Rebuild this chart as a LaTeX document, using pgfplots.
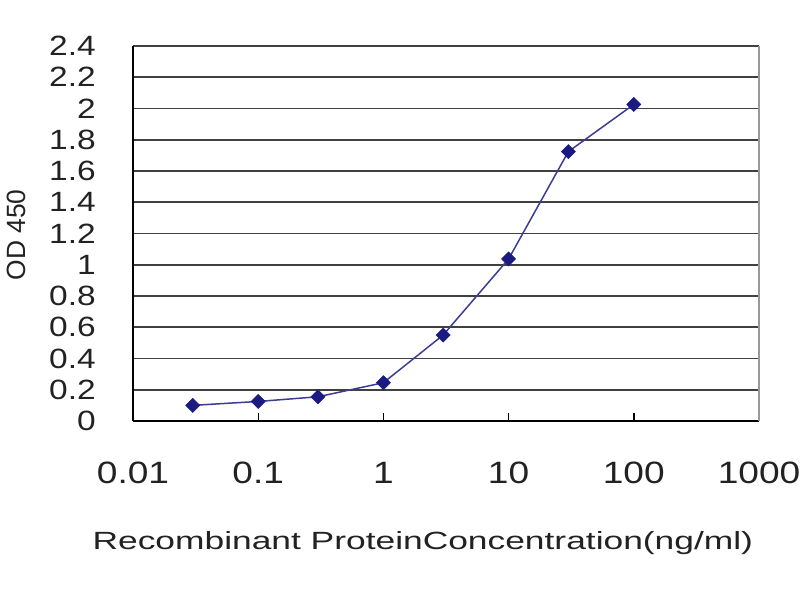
\documentclass[border=0pt]{standalone}
\usepackage{pgfplots}
\pgfplotsset{compat=1.18}
\usepackage{fontspec}
\setmainfont{Liberation Sans}
\usepackage{graphicx}
\definecolor{navy}{HTML}{1A1A80}
\definecolor{gridc}{HTML}{404040}
\definecolor{txt}{HTML}{222222}
\begin{document}
\begin{tikzpicture}[x=1bp,y=1bp]
\path[use as bounding box] (0,0) rectangle (800,600);
\begin{axis}[
  at={(133bp,179bp)}, anchor=south west,
  scale only axis, width=626bp, height=375bp,
  xmode=log, xmin=0.01, xmax=1000,
  ymin=0, ymax=2.4,
  axis lines=left, axis line style={-, black, line width=1.6bp},
  xtick={0.01,0.1,1,10,100,1000},
  xticklabels={0.01,0.1,1,10,100,1000},
  ytick={0,0.2,0.4,0.6,0.8,1,1.2,1.4,1.6,1.8,2,2.2,2.4},
  yticklabels={0,0.2,0.4,0.6,0.8,1,1.2,1.4,1.6,1.8,2,2.2,2.4},
  minor x tick num=0, minor xtick={}, xminorticks=false,
  xtick align=inside, major tick length=8bp,
  xtick style={black, line width=1.4bp},
  ytick style={draw=none},
  ymajorgrids, major grid style={gridc, line width=1.6bp},
  extra x ticks={1000}, extra x tick labels={},
  extra x tick style={xmajorgrids, major grid style={gray!80, line width=1.2bp}, tick style={draw=none}},
  xticklabel style={font=\fontsize{31}{31}\selectfont, text=txt, anchor=center, inner sep=0pt, yshift=-52bp, xscale=1.2},
  yticklabel style={font=\fontsize{28}{28}\selectfont, text=txt, anchor=east, inner sep=0pt, xshift=-33bp, xscale=1.2},
  xlabel={\scalebox{1.42}[1]{Recombinant ProteinConcentration(ng/ml)}},
  xlabel style={font=\fontsize{25}{25}\selectfont, text=txt, at={(axis description cs:0.463,-0.3253)}, anchor=center, inner sep=0pt},
  ylabel={OD 450},
  ylabel style={font=\fontsize{26.5}{26.5}\selectfont, text=txt, at={(axis description cs:-0.187,0.496)}, anchor=center, inner sep=0pt, rotate=0},
  clip=false,
]
\addplot[color=navy!85, line width=1.5bp, mark=square*, mark size=5bp, mark options={rotate=45, fill=navy, draw=navy, line width=0.5bp}]
  coordinates {(0.03,0.10) (0.1,0.125) (0.3,0.155) (1,0.245) (3,0.55) (10,1.037) (30,1.724) (100,2.026)};
\end{axis}
\end{tikzpicture}
\end{document}
